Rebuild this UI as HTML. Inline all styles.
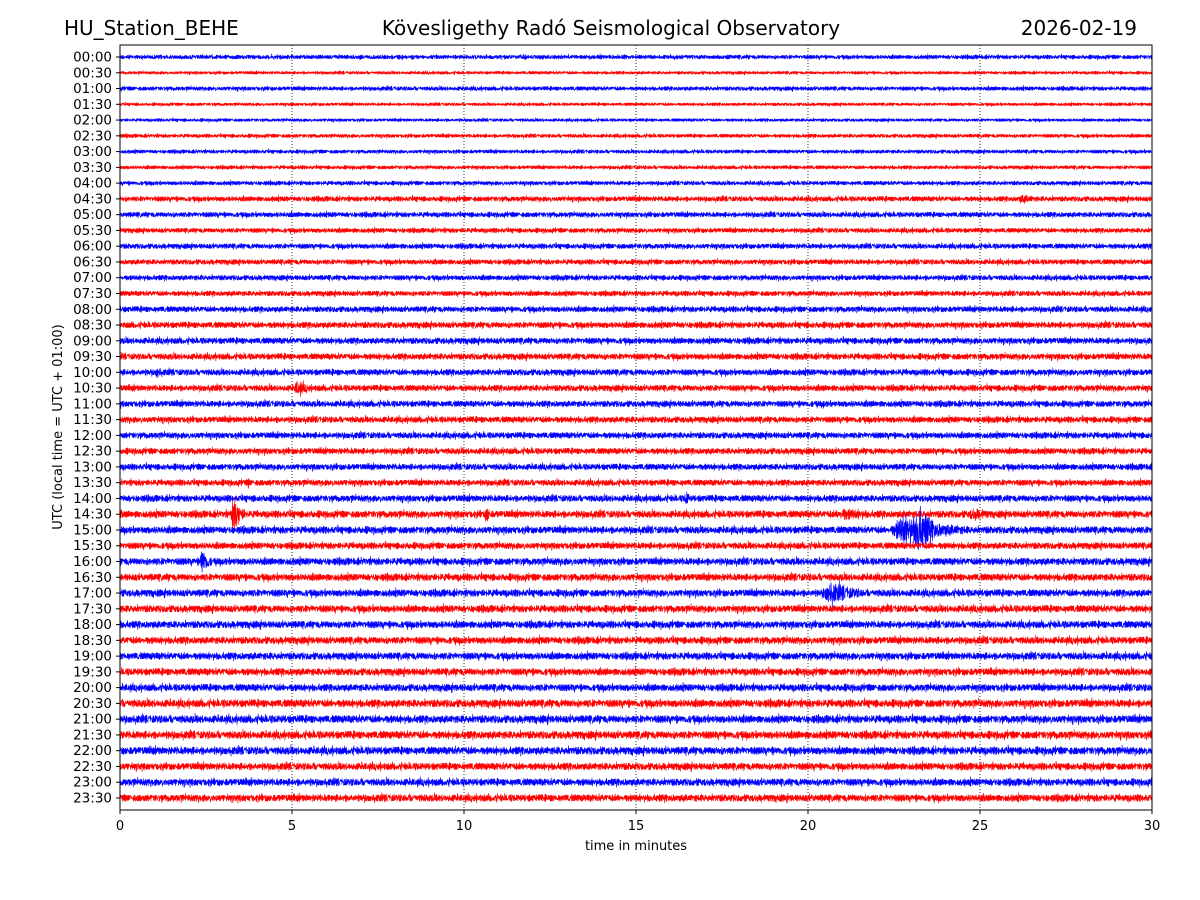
<!DOCTYPE html>
<html><head><meta charset="utf-8"><style>
body{margin:0;background:#fff;}
svg{display:block;font-family:"DejaVu Sans","Liberation Sans",sans-serif;}
</style></head><body>
<svg id="c" width="1200" height="900" viewBox="0 0 1200 900">
<rect width="1200" height="900" fill="#fff"/>
<text x="64" y="35" font-size="20">HU_Station_BEHE</text>
<text x="611" y="35" font-size="20" text-anchor="middle">Kövesligethy Radó Seismological Observatory</text>
<text x="1137" y="35" font-size="20" text-anchor="end">2026-02-19</text>
<text transform="translate(62,427) rotate(-90)" font-size="13" text-anchor="middle">UTC (local time = UTC + 01:00)</text>
<text x="636" y="850" font-size="13" text-anchor="middle">time in minutes</text>
<g id="grid"></g><g id="traces"></g><g id="axes"></g>
<rect x="120" y="45" width="1032" height="765" fill="none" stroke="#000" stroke-width="1"/>
</svg>
<script>
// data
const rowLabels=[];for(let h=0;h<24;h++){const s=String(h).padStart(2,'0');rowLabels.push(s+':00',s+':30');}
const xTicks=[0,5,10,15,20,25,30];
const noiseAmp=[2,1.5,2,1.5,1.5,1.8,1.8,1.8,2,2.5,2.5,2.3,2.5,2.5,2.5,2.5,2.8,3,3,3,3,3,3,3,3,3,3,3,3.2,3.5,3.5,3.2,3.5,3.5,3.5,3.5,3.5,3.5,3.5,3.5,3.5,3.8,3.8,3.8,3.8,3.5,3.5,3.5];
const eventRow=[20,21,27,28,29,29,29,29,30,30,32,34,9,22];
const eventStart=[1,5,3.7,16.4,3.2,10.6,20.5,24.5,22.3,23,2.3,20.3,26,20.4];
const eventEnd=[1.5,6,3.9,16.7,3.8,10.9,24,26.5,25.5,24.2,2.8,22.5,27.5,20.7];
const eventAmp=[4,5,4,6,12,7,4,4,10,16,10,7,3,3];
// axes
const x0=120,x1=1152,yTop=57,yBot=798;
const xs=m=>x0+(m/30)*(x1-x0);
const ys=i=>yTop+i*(yBot-yTop)/(rowLabels.length-1);
const NS='http://www.w3.org/2000/svg';
const grid=document.getElementById('grid'),axes=document.getElementById('axes'),tr=document.getElementById('traces');
function mk(tag,attrs,parent){const e=document.createElementNS(NS,tag);for(const k in attrs)e.setAttribute(k,attrs[k]);parent.appendChild(e);return e;}
xTicks.forEach(t=>{
  if(t>0&&t<30){const g=mk('line',{x1:xs(t),x2:xs(t),y1:45,y2:810,stroke:'#000','stroke-width':0.8,'stroke-dasharray':'1,2'},grid);
  
  }
  const tk=mk('line',{x1:xs(t),x2:xs(t),y1:810,y2:814,stroke:'#000'},axes);
  
  
  const tl=mk('text',{x:xs(t),y:830,'font-size':13,'text-anchor':'middle'},axes);tl.textContent=t;
  
  
});
rowLabels.forEach((lab,i)=>{
  const tk=mk('line',{x1:116,x2:120,y1:ys(i),y2:ys(i),stroke:'#000'},axes);
  
  
  const t=mk('text',{x:112,y:ys(i)+4.5,'font-size':13.5,'text-anchor':'end'},axes);t.textContent=lab;
  
  
});
// seeded noise for waveform texture
let seed=12345;function rnd(){seed=(seed*1103515245+12345)&0x7fffffff;return seed/0x7fffffff;}
const N=5000;
rowLabels.forEach((lab,i)=>{
  let d='';const yc=ys(i);let prev=0;
  for(let k=0;k<=N;k++){
    const m=30*k/N;let a=noiseAmp[i];
    for(let e=0;e<eventRow.length;e++){if(eventRow[e]!==i)continue;
      const s=eventStart[e],en=eventEnd[e];
      if(m>=s&&m<=en){const f=(m-s)/(en-s);const env=f<0.15?f/0.15:Math.exp(-(f-0.15)*2.5);a=Math.max(a,1.6*eventAmp[e]*env);}}
    let v=(rnd()*2-1);if(rnd()<0.05)v*=1.6;v=-0.2*prev+0.9*v;prev=v;
    d+=(k?'L':'M')+xs(m).toFixed(1)+' '+(yc+v*a).toFixed(1);
  }
  const p=mk('path',{d:d,fill:'none',stroke:i%2?'#ff0000':'#0000ff','stroke-width':0.7,'stroke-linejoin':'round'},tr);
  
  
});
</script>
</body></html>
